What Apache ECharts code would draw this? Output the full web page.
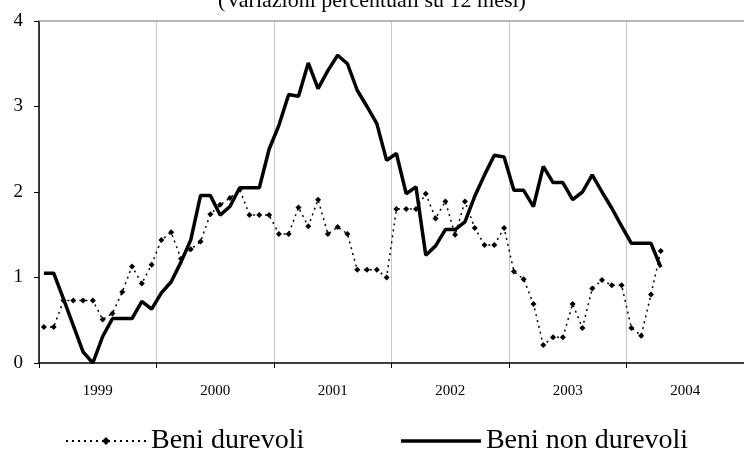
<!DOCTYPE html>
<html>
<head>
<meta charset="utf-8">
<script src="https://cdn.jsdelivr.net/npm/echarts@6/dist/echarts.min.js"></script>
<style>
  html, body { margin: 0; padding: 0; background: #fff; }
  #chart { width: 744px; height: 454px; }
</style>
</head>
<body>
<div id="chart"></div>
<script>
// anni sull'asse x (ogni anno = 12 mesi)
const years = ['1999', '2000', '2001', '2002', '2003', '2004'];

// variazioni percentuali su 12 mesi, dati mensili gen 1999 - apr 2004
const beniDurevoli = [
  0.42, 0.42, 0.73, 0.73, 0.73, 0.73, 0.51, 0.58, 0.83, 1.13, 0.93, 1.15,
  1.44, 1.53, 1.22, 1.33, 1.42, 1.74, 1.85, 1.93, 2.03, 1.73, 1.73, 1.73,
  1.51, 1.51, 1.82, 1.60, 1.91, 1.51, 1.59, 1.51, 1.09, 1.09, 1.09, 1.00,
  1.80, 1.80, 1.80, 1.98, 1.69, 1.89, 1.50, 1.89, 1.58, 1.38, 1.38, 1.58,
  1.07, 0.98, 0.69, 0.21, 0.30, 0.30, 0.69, 0.41, 0.87, 0.97, 0.91, 0.91,
  0.41, 0.32, 0.80, 1.31
];

const beniNonDurevoli = [
  1.05, 1.05, 0.75, 0.44, 0.13, 0.00, 0.31, 0.52, 0.52, 0.52, 0.72, 0.63,
  0.82, 0.95, 1.18, 1.44, 1.96, 1.96, 1.73, 1.83, 2.05, 2.05, 2.05, 2.50,
  2.78, 3.14, 3.12, 3.51, 3.21, 3.42, 3.60, 3.50, 3.19, 3.00, 2.80, 2.37,
  2.45, 1.98, 2.06, 1.26, 1.37, 1.56, 1.56, 1.65, 1.95, 2.20, 2.43, 2.41,
  2.02, 2.02, 1.83, 2.30, 2.11, 2.11, 1.91, 2.00, 2.20, 2.00, 1.81, 1.60,
  1.40, 1.40, 1.40, 1.12
];

const FONT = '"Liberation Serif", "DejaVu Serif", serif';

// mese i -> centro della cella mensile
const toPoints = (arr) => arr.map((v, i) => [i + 0.5, v]);

const chart = echarts.init(document.getElementById('chart'));

chart.setOption({
  animation: false,
  backgroundColor: '#fff',
  title: {
    text: '(Variazioni percentuali su 12 mesi)',
    left: 'center',
    top: -15,
    textStyle: { fontFamily: FONT, fontSize: 22, fontWeight: 'normal', color: '#000' }
  },
  grid: { left: 39, right: -9, top: 21, bottom: 91 },
  legend: {
    left: 60,
    top: 422,
    itemWidth: 80,
    itemHeight: 10,
    itemGap: 95,
    textStyle: { fontFamily: FONT, fontSize: 28, color: '#000' },
    data: [
      { name: 'Beni durevoli' },
      { name: 'Beni non durevoli', itemStyle: { opacity: 0 }, lineStyle: { width: 3.5 } }
    ]
  },
  xAxis: [
    {
      type: 'value',
      min: 0,
      max: 72,
      interval: 12,
      axisLine: { lineStyle: { color: '#000', width: 1.5 } },
      axisTick: { show: true, length: 5, lineStyle: { color: '#000' } },
      axisLabel: { show: false },
      splitLine: { show: true, lineStyle: { color: '#c8c8c8', width: 1 } }
    },
    {
      type: 'category',
      data: years,
      boundaryGap: true,
      position: 'bottom',
      axisLine: { show: false },
      axisTick: { show: false },
      axisLabel: { fontFamily: FONT, fontSize: 15, color: '#000', margin: 21 },
      splitLine: { show: false }
    },
    {
      type: 'value',
      min: 0,
      max: 72,
      position: 'top',
      axisLine: { show: true, lineStyle: { color: '#a0a0a0', width: 1.5 } },
      axisTick: { show: false },
      axisLabel: { show: false },
      splitLine: { show: false }
    }
  ],
  yAxis: {
    type: 'value',
    min: 0,
    max: 4,
    interval: 1,
    axisLine: { show: true, lineStyle: { color: '#000', width: 1.5 } },
    axisTick: { show: true, length: 5, lineStyle: { color: '#000' } },
    axisLabel: { fontFamily: FONT, fontSize: 19, color: '#000', margin: 16 },
    splitLine: { show: false }
  },
  series: [
    {
      name: 'Beni durevoli',
      type: 'line',
      xAxisIndex: 0,
      data: toPoints(beniDurevoli),
      symbol: 'diamond',
      symbolSize: 6,
      showSymbol: true,
      itemStyle: { color: '#000' },
      lineStyle: { color: '#000', width: 1.5, type: [2, 4] },
      z: 3
    },
    {
      name: 'Beni non durevoli',
      type: 'line',
      xAxisIndex: 0,
      data: toPoints(beniNonDurevoli),
      symbol: 'none',
      itemStyle: { color: '#000' },
      lineStyle: { color: '#000', width: 3.5 },
      z: 2
    }
  ]
});
</script>
</body>
</html>
